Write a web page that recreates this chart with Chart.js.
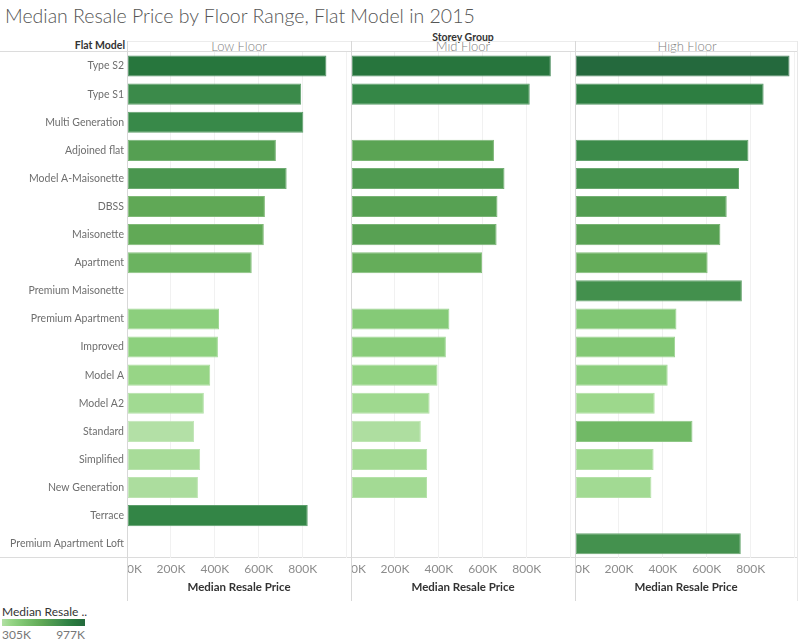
<!DOCTYPE html>
<html>
<head>
<meta charset="utf-8">
<script src="https://cdn.jsdelivr.net/npm/chart.js@4.4.1/dist/chart.umd.min.js"></script>
<style>
  body { margin: 0; background: #fff; width: 800px; height: 644px; position: relative; overflow: hidden; font-family: Lato, sans-serif; }
  .abs { position: absolute; }
  .hline { position: absolute; height: 1px; background: #dcdcdc; }
  .vline { position: absolute; width: 1px; background: #d8d8d8; }
  .panelHead { position: absolute; top: 38px; width: 224px; text-align: center; font-size: 13px; font-weight: 300; color: #808080; }
  canvas { position: absolute; }
</style>
</head>
<body>
<div class="abs" style="left:5px;top:4px;font-size:19.5px;font-weight:300;color:#555">Median Resale Price by Floor Range, Flat Model in 2015</div>
<div class="abs" style="left:351px;width:224px;top:31px;text-align:center;font-size:10.5px;font-weight:bold;color:#333">Storey Group</div>
<div class="abs" style="left:0;width:125px;top:39px;text-align:right;font-size:10.5px;font-weight:bold;color:#333">Flat Model</div>
<div class="panelHead" style="left:127px">Low Floor</div>
<div class="panelHead" style="left:351px">Mid Floor</div>
<div class="panelHead" style="left:575px">High Floor</div>

<div class="hline" style="left:127px;width:671px;top:41px;background:#ececec"></div>
<div class="hline" style="left:0;width:798px;top:51px"></div>
<div class="hline" style="left:0;width:798px;top:557px"></div>

<canvas id="lowChart" style="left:0;top:52px" width="351" height="547"></canvas>
<canvas id="midChart" style="left:351px;top:52px" width="224" height="547"></canvas>
<canvas id="highChart" style="left:575px;top:52px" width="222" height="547"></canvas>

<div class="vline" style="left:127px;top:41px;height:560px"></div>
<div class="vline" style="left:351px;top:41px;height:560px"></div>
<div class="vline" style="left:575px;top:41px;height:560px"></div>
<div class="vline" style="left:797px;top:41px;height:560px;background:#e8e8e8"></div>

<div class="abs" style="left:2px;top:604px;font-size:12px;color:#333">Median Resale ..</div>
<div class="abs" id="legendBar" style="left:2px;top:619px;width:83px;height:7px"></div>
<div class="abs" style="left:2px;top:627px;font-size:12px;color:#777">305K</div>
<div class="abs" style="left:45px;width:40px;top:627px;font-size:12px;color:#777;text-align:right">977K</div>

<script>
// values in thousands (K)
var flatModels = ['Type S2', 'Type S1', 'Multi Generation', 'Adjoined flat', 'Model A-Maisonette', 'DBSS',
  'Maisonette', 'Apartment', 'Premium Maisonette', 'Premium Apartment', 'Improved', 'Model A',
  'Model A2', 'Standard', 'Simplified', 'New Generation', 'Terrace', 'Premium Apartment Loft']
var lowFloor = [908, 793, 803, 678, 727, 628, 623, 568, null, 419, 414, 379, 350, 305, 333, 323, 823, null]
var midFloor = [910, 814, null, 651, 699, 667, 663, 597, null, 448, 432, 394, 358, 318, 347, 346, null, null]
var highFloor = [977, 859, null, 790, 747, 691, 662, 604, 760, 462, 456, 422, 363, 535, 358, 348, null, 755]
var priceTicks = [0, 200, 400, 600, 800, 1000]
var colorMin = 305
var colorMax = 977

var greens = ['#b3e0a6', '#a5db96', '#98d687', '#8ed07f', '#85ca77', '#7dc370', '#75bc69', '#6eb663', '#67af5c', '#61a956',
  '#59a253', '#519c51', '#49964f', '#428f4d', '#398949', '#308344', '#2b7c40', '#27763d', '#256f3d', '#24693d']

function hex2rgb (h) {
  return [parseInt(h.substr(1, 2), 16), parseInt(h.substr(3, 2), 16), parseInt(h.substr(5, 2), 16)]
}
function colorFor (v, lighten) {
  var t = Math.max(0, Math.min(1, (v - colorMin) / (colorMax - colorMin))) * (greens.length - 1)
  var i = Math.min(greens.length - 2, Math.floor(t))
  var f = t - i
  var a = hex2rgb(greens[i])
  var b = hex2rgb(greens[i + 1])
  var c = a.map(function (x, k) {
    var y = x + (b[k] - x) * f
    if (lighten) y = y + (255 - y) * lighten
    return Math.round(y)
  })
  return 'rgb(' + c.join(',') + ')'
}

document.getElementById('legendBar').style.background =
  'linear-gradient(to right,' + greens.join(',') + ')'

function makeChart (id, values, showLabels, maxK) {
  return new Chart(document.getElementById(id), {
    type: 'bar',
    data: {
      labels: flatModels,
      datasets: [{
        data: values,
        backgroundColor: values.map(function (v) { return v == null ? 'transparent' : colorFor(v) }),
        borderColor: values.map(function (v) { return v == null ? 'transparent' : colorFor(v, 0.2) }),
        borderWidth: 1,
        borderSkipped: false,
        barPercentage: 0.75,
        categoryPercentage: 1
      }]
    },
    options: {
      indexAxis: 'y',
      responsive: false,
      animation: false,
      layout: { padding: 0 },
      plugins: { legend: { display: false }, tooltip: { enabled: false } },
      scales: {
        x: {
          min: 0,
          max: maxK,
          grid: { color: '#f1f1f1', drawTicks: false },
          border: { display: false },
          afterBuildTicks: function (scale) {
            scale.ticks = priceTicks.map(function (v) { return { value: v } })
          },
          ticks: {
            align: 'inner',
            autoSkip: false,
            maxRotation: 0,
            padding: 4,
            color: '#8c8c8c',
            font: { family: 'Lato', size: 12 },
            callback: function (v) { return v === 1000 ? '' : v + 'K' }
          },
          title: {
            display: true,
            text: 'Median Resale Price',
            color: '#333',
            font: { family: 'Lato', size: 11.5, weight: 'bold' },
            padding: { top: 0, bottom: 5 }
          },
          afterFit: function (scale) { scale.paddingLeft = 0; scale.paddingRight = 0 }
        },
        y: {
          display: showLabels,
          grid: { display: false, drawTicks: false },
          border: { display: false },
          ticks: {
            padding: 3,
            color: '#6e6e6e',
            font: { family: 'Lato', size: 10.5 }
          },
          afterFit: function (scale) {
            if (showLabels) scale.width = 127
            scale.paddingTop = 0
            scale.paddingBottom = 0
          }
        }
      }
    }
  })
}

makeChart('lowChart', lowFloor, true, 1020)
makeChart('midChart', midFloor, false, 1020)
makeChart('highChart', highFloor, false, 1011)
</script>
</body>
</html>
